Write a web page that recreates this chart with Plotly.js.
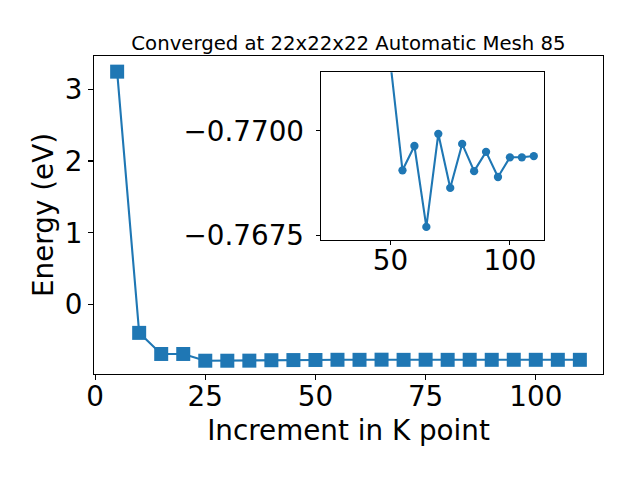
<!DOCTYPE html>
<html>
<head>
<meta charset="utf-8">
<script src="https://cdn.plot.ly/plotly-3.0.1.min.js"></script>
<style>html,body{margin:0;padding:0;background:#fff;}#chart{width:640px;height:480px;}</style>
</head>
<body>
<div id="chart"></div>
<script>
// Data
const kpoints = [5,10,15,20,25,30,35,40,45,50,55,60,65,70,75,80,85,90,95,100,105,110];
const energy = [3.245,-0.394,-0.688,-0.688,-0.782,-0.782,-0.781,-0.775,-0.773,-0.7716,
                -0.76906,-0.76964,-0.76771,-0.76993,-0.76864,-0.76969,-0.76904,-0.7695,
                -0.7689,-0.76937,-0.76937,-0.7694];
const insetFrom = 25; // inset plots points from this K value onward
const mainXTicks = [0,25,50,75,100];
const mainYTicks = [0,1,2,3];
const insetXTicks = [50,100];
const insetYTicks = [-0.7700,-0.7675];
const insetYTickText = ['\u22120.7700','\u22120.7675'];
const titleText = 'Converged at 22x22x22 Automatic Mesh 85';
const xTitle = 'Increment in K point';
const yTitle = 'Energy (eV)';

const insetX = kpoints.filter(k => k >= insetFrom);
const insetY = energy.filter((e, i) => kpoints[i] >= insetFrom);

const blue = '#1f77b4';
const font = 'DejaVu Sans, sans-serif';
const big = 27.8;

const traces = [
  {x: kpoints, y: energy, type: 'scatter', mode: 'lines+markers',
   line: {color: blue, width: 2.1},
   marker: {symbol: 'square', size: 14, color: blue},
   xaxis: 'x', yaxis: 'y', hoverinfo: 'none'},
  {x: insetX, y: insetY, type: 'scatter', mode: 'lines+markers',
   line: {color: blue, width: 2.1},
   marker: {symbol: 'circle', size: 8.3, color: blue},
   xaxis: 'x2', yaxis: 'y2', cliponaxis: true, hoverinfo: 'none'}
];

const axisCommon = {
  showline: true, mirror: true, linecolor: '#000', linewidth: 1.1,
  ticks: 'outside', ticklen: 5, tickwidth: 1.1, tickcolor: '#000',
  showgrid: false, zeroline: false,
  tickfont: {family: font, size: big, color: '#000'}
};

const layout = {
  width: 640, height: 480,
  margin: {l: 94, r: 37, t: 56, b: 105.5, pad: 0},
  paper_bgcolor: '#fff', plot_bgcolor: '#fff',
  showlegend: false,
  font: {family: font, color: '#000'},
  title: {text: titleText, font: {family: font, size: 19.7, color: '#000'},
          x: 0.5, xref: 'paper', xanchor: 'center',
          y: 1, yref: 'paper', yanchor: 'bottom', pad: {b: 6}},
  xaxis: Object.assign({}, axisCommon, {
    domain: [0, 1], range: [-0.25, 115.25], tickmode: 'array', tickvals: mainXTicks,
    anchor: 'y', ticklabelstandoff: -7,
    title: {text: xTitle, font: {family: font, size: big, color: '#000'}, standoff: 8}
  }),
  yaxis: Object.assign({}, axisCommon, {
    domain: [0, 1], range: [-0.967, 3.463], tickmode: 'array', tickvals: mainYTicks,
    anchor: 'x', ticklabelstandoff: 0,
    title: {text: yTitle, font: {family: font, size: big, color: '#000'}, standoff: 2}
  }),
  xaxis2: Object.assign({}, axisCommon, {
    domain: [0.4454, 0.884], range: [20.75, 114.25], tickmode: 'array', tickvals: insetXTicks,
    anchor: 'y2', ticklen: 4, ticklabelstandoff: -8
  }),
  yaxis2: Object.assign({}, axisCommon, {
    domain: [0.4223, 0.9488], range: [-0.767405, -0.771398], tickmode: 'array',
    tickvals: insetYTicks, ticktext: insetYTickText,
    anchor: 'x2', ticklen: 4, ticklabelstandoff: 6
  })
};

Plotly.newPlot('chart', traces, layout, {staticPlot: true, displayModeBar: false});
</script>
</body>
</html>
